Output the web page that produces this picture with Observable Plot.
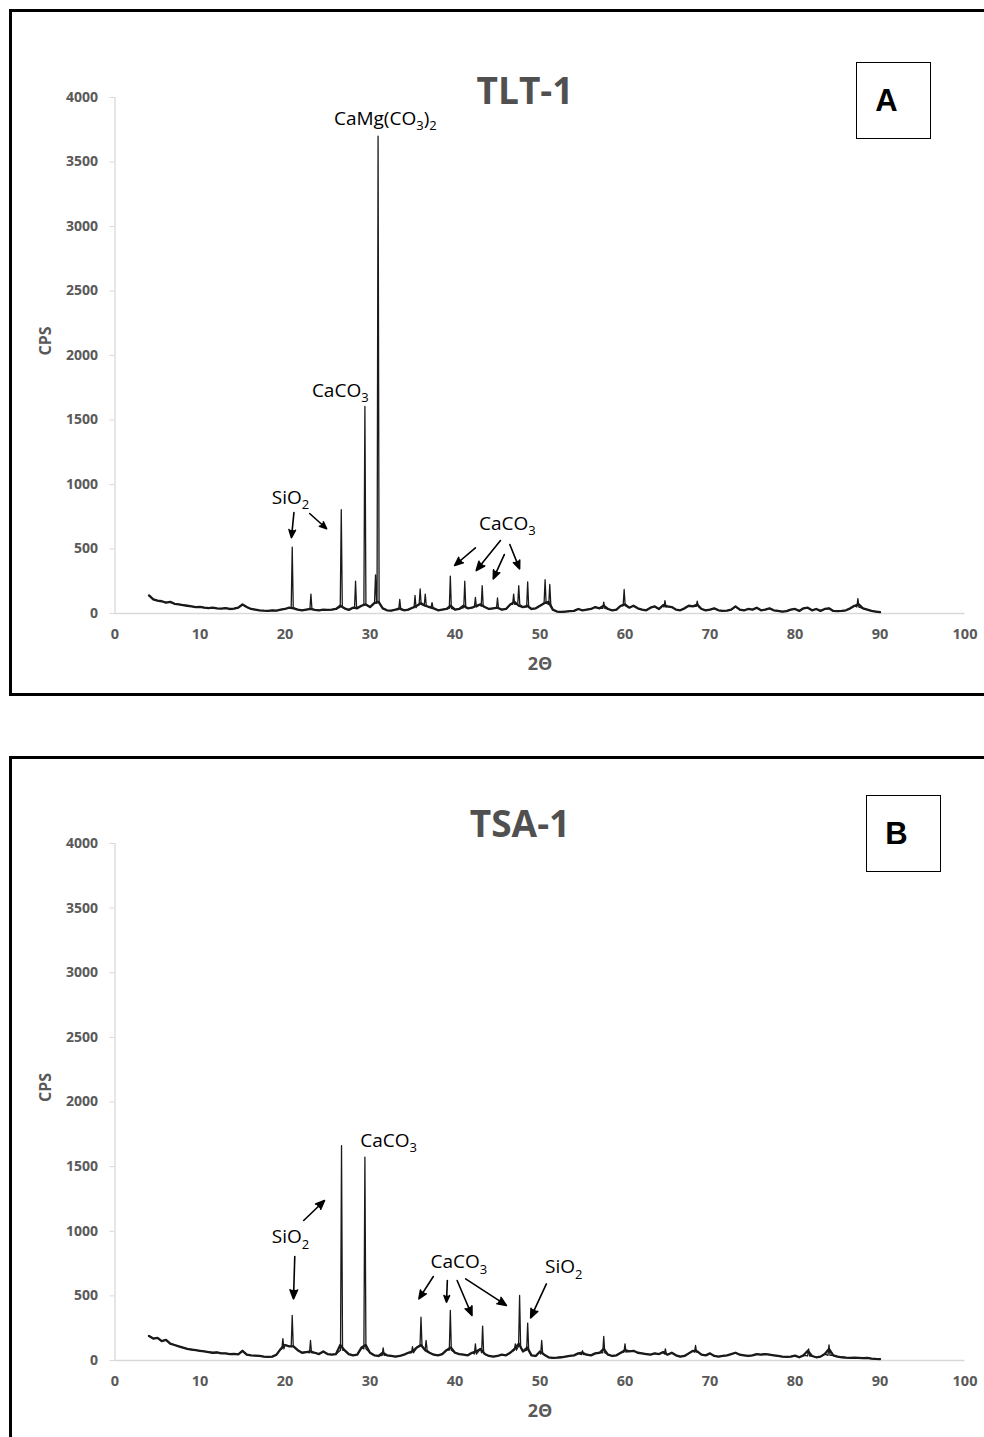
<!DOCTYPE html>
<html>
<head>
<meta charset="utf-8">
<script src="https://cdn.jsdelivr.net/npm/d3@7"></script>
<script src="https://cdn.jsdelivr.net/npm/@observablehq/plot@0.6"></script>
<style>
  html, body { margin: 0; padding: 0; background: #fff; }
  body { width: 984px; height: 1437px; overflow: hidden; position: relative; }
  .panel { position: absolute; border: 3px solid #000; box-sizing: border-box; }
  .chart { position: absolute; left: 0; }
  .tag { position: absolute; border: 1.5px solid #000; box-sizing: border-box; background: #fff;
         font-family: "Liberation Sans", Arial, sans-serif; font-weight: bold; font-size: 31px;
         display: flex; align-items: center; justify-content: center; color: #000; padding-right: 14px; }
</style>
</head>
<body>
<div class="panel" style="left:9px; top:9px; width:1000px; height:687px;"></div>
<div class="panel" style="left:9px; top:756px; width:1000px; height:700px;"></div>
<div id="chartA" class="chart" style="top:0px;"></div>
<div id="chartB" class="chart" style="top:747px;"></div>
<div class="tag" style="left:856px; top:62px; width:75px; height:77px;">A</div>
<div class="tag" style="left:866px; top:795px; width:75px; height:77px;">B</div>
<script>
// ---- axes ----
const thetaTicks = [0, 10, 20, 30, 40, 50, 60, 70, 80, 90, 100];
const cpsTicks = [0, 500, 1000, 1500, 2000, 2500, 3000, 3500, 4000];

// ---- panel A (TLT-1): background [2θ, CPS] ----
const baselineA = [
[4,140],[4.5,110],[5,100],[5.5,95],[6,85],[6.5,90],[7,75],[7.5,70],[8,65],[8.5,60],[9,55],[9.5,50],[10,52],[10.5,45],[11,42],[11.5,45],[12,40],[12.5,38],[13,42],[13.5,35],[14,38],[14.5,45],[15,70],[15.5,50],[16,35],[16.5,30],[17,25],[17.5,22],[18,20],[18.5,25],[19,22],[19.5,30],[20,35],[20.5,45],[21,40],[21.5,30],[22,25],[22.5,30],[23,35],[23.5,28],[24,25],[24.5,30],[25,28],[25.5,30],[26,35],[26.5,60],[27,40],[27.5,28],[28,45],[28.5,40],[29,60],[29.5,70],[30,50],[30.5,80],[31,90],[31.5,40],[32,25],[32.5,22],[33,30],[33.5,40],[34,25],[34.5,30],[35,45],[35.5,60],[36,80],[36.5,60],[37,50],[37.5,40],[38,25],[38.5,30],[39,35],[39.5,60],[40,30],[40.5,35],[41,60],[41.5,40],[42,45],[42.5,60],[43,70],[43.5,50],[44,35],[44.5,40],[45,45],[45.5,30],[46,35],[46.5,70],[47,90],[47.5,60],[48,50],[48.5,60],[49,35],[49.5,40],[50,60],[50.5,80],[51,90],[51.5,30],[52,15],[52.5,12],[53,15],[53.5,18],[54,20],[54.5,35],[55,25],[55.5,30],[56,35],[56.5,50],[57,40],[57.5,60],[58,35],[58.5,25],[59,30],[59.5,60],[60,70],[60.5,45],[61,60],[61.5,40],[62,30],[62.5,25],[63,45],[63.5,55],[64,35],[64.5,65],[65,55],[65.5,50],[66,30],[66.5,25],[67,40],[67.5,60],[68,55],[68.5,70],[69,35],[69.5,25],[70,30],[70.5,40],[71,25],[71.5,20],[72,22],[72.5,30],[73,55],[73.5,30],[74,25],[74.5,35],[75,30],[75.5,45],[76,25],[76.5,30],[77,40],[77.5,25],[78,20],[78.5,15],[79,18],[79.5,30],[80,35],[80.5,20],[81,40],[81.5,45],[82,25],[82.5,35],[83,20],[83.5,35],[84,40],[84.5,20],[85,18],[85.5,20],[86,25],[86.5,40],[87,60],[87.5,70],[88,40],[88.5,30],[89,20],[89.5,15],[90,10]
];
// peaks: [2θ, peak CPS, foot CPS]
const peaksA = [
[20.85,514,45],[23.05,150,35],[26.62,805,50],[28.3,250,45],[29.4,1605,70],[30.65,300,80],[30.95,3700,90],
[33.5,110,30],[35.3,140,45],[35.9,190,70],[36.5,150,60],[37.3,85,45],[39.45,290,40],[41.15,250,45],
[42.4,125,50],[43.2,215,55],[45.0,120,40],[46.9,150,70],[47.5,215,70],[48.55,245,50],[50.6,262,80],
[51.15,225,70],[57.5,88,40],[59.9,186,60],[64.7,100,50],[68.5,95,55],[87.4,115,50]
];
const labelsA = [
  {x: 31.8, y: 3837, text: "CaMg(CO₃)₂"},
  {x: 26.5, y: 1729, text: "CaCO₃"},
  {x: 20.65, y: 899, text: "SiO₂"},
  {x: 46.15, y: 695, text: "CaCO₃"}
];
const arrowsA = [
  {x1: 21.05, y1: 782, x2: 20.76, y2: 588},
  {x1: 22.9, y1: 775, x2: 24.9, y2: 657},
  {x1: 42.4, y1: 509, x2: 39.95, y2: 372},
  {x1: 45.35, y1: 566, x2: 42.5, y2: 333},
  {x1: 45.8, y1: 457, x2: 44.5, y2: 269},
  {x1: 46.45, y1: 535, x2: 47.6, y2: 346}
];

// ---- panel B (TSA-1) ----
const baselineB = [
[4,190],[4.5,170],[5,175],[5.5,150],[6,160],[6.5,130],[7,120],[7.5,110],[8,100],[8.5,90],[9,85],[9.5,80],[10,75],[10.5,70],[11,65],[11.5,60],[12,62],[12.5,55],[13,55],[13.5,50],[14,52],[14.5,48],[15,75],[15.5,45],[16,40],[16.5,38],[17,35],[17.5,30],[18,28],[18.5,30],[19,45],[19.5,90],[20,120],[20.5,110],[21,110],[21.5,80],[22,60],[22.5,65],[23,70],[23.5,60],[24,50],[24.5,70],[25,50],[25.5,45],[26,50],[26.5,120],[27,80],[27.5,50],[28,40],[28.5,45],[29,100],[29.5,120],[30,60],[30.5,40],[31,35],[31.5,60],[32,40],[32.5,35],[33,30],[33.5,35],[34,45],[34.5,60],[35,70],[35.5,100],[36,120],[36.5,80],[37,60],[37.5,45],[38,40],[38.5,50],[39,80],[39.5,100],[40,60],[40.5,50],[41,45],[41.5,40],[42,60],[42.5,70],[43,90],[43.5,50],[44,35],[44.5,30],[45,35],[45.5,45],[46,40],[46.5,60],[47,90],[47.5,130],[48,70],[48.5,100],[49,40],[49.5,35],[50,70],[50.5,45],[51,25],[51.5,20],[52,22],[52.5,25],[53,30],[53.5,35],[54,40],[54.5,55],[55,60],[55.5,45],[56,40],[56.5,55],[57,60],[57.5,90],[58,45],[58.5,35],[59,40],[59.5,60],[60,80],[60.5,70],[61,75],[61.5,60],[62,55],[62.5,50],[63,45],[63.5,55],[64,50],[64.5,65],[65,45],[65.5,60],[66,40],[66.5,30],[67,35],[67.5,55],[68,75],[68.5,70],[69,45],[69.5,40],[70,55],[70.5,35],[71,30],[71.5,35],[72,40],[72.5,50],[73,60],[73.5,45],[74,40],[74.5,35],[75,40],[75.5,50],[76,45],[76.5,50],[77,45],[77.5,40],[78,35],[78.5,30],[79,28],[79.5,30],[80,38],[80.5,25],[81,40],[81.5,75],[82,35],[82.5,25],[83,30],[83.5,50],[84,90],[84.5,40],[85,30],[85.5,25],[86,22],[86.5,20],[87,22],[87.5,20],[88,18],[88.5,20],[89,15],[89.5,12],[90,10]
];
const peaksB = [
[19.75,170,90],[20.85,348,110],[23.0,155,60],[26.65,1663,80],[29.4,1573,90],[31.55,98,40],[35.0,108,60],[36.0,335,110],
[36.6,155,80],[39.45,387,80],[42.4,129,50],[43.25,266,60],[47.1,129,80],[47.6,503,110],[48.55,289,80],
[50.2,155,50],[55.0,77,45],[57.5,186,60],[60.0,129,65],[64.75,90,50],[68.3,116,65],[81.6,90,35],[84.0,121,40]
];
const labelsB = [
  {x: 32.2, y: 1702, text: "CaCO₃"},
  {x: 20.65, y: 954, text: "SiO₂"},
  {x: 40.45, y: 761, text: "CaCO₃"},
  {x: 52.8, y: 722, text: "SiO₂"}
];
const arrowsB = [
  {x1: 22.2, y1: 1083, x2: 24.65, y2: 1238},
  {x1: 21.15, y1: 805, x2: 21.0, y2: 477},
  {x1: 37.45, y1: 650, x2: 35.75, y2: 477},
  {x1: 39.1, y1: 619, x2: 39.0, y2: 451},
  {x1: 40.25, y1: 619, x2: 42.0, y2: 348},
  {x1: 41.25, y1: 632, x2: 46.05, y2: 426},
  {x1: 50.75, y1: 593, x2: 48.9, y2: 330}
];

function buildPattern(baseline, peaks) {
  const pts = baseline
    .filter(([x]) => !peaks.some(p => Math.abs(p[0] - x) < 0.2))
    .map(([x, y]) => ({x, y}));
  for (const [x, y, foot] of peaks) {
    pts.push({x: x - 0.12, y: foot}, {x, y}, {x: x + 0.12, y: foot});
  }
  return pts.sort((a, b) => a.x - b.x);
}

function panel({baseline, peaks, labels, arrows, title, titleDx, titleDy, marginTop}) {
  const gray = "#595959";
  return Plot.plot({
    width: 984, height: 700,
    marginLeft: 114.5, marginRight: 19.5, marginTop, marginBottom: 87,
    style: {fontFamily: "'Open Sans', sans-serif", background: "transparent", overflow: "visible"},
    x: {domain: [0, 100], label: null},
    y: {domain: [0, 4000], label: null},
    marks: [
      Plot.ruleX([0], {stroke: "#d9d9d9", strokeWidth: 1.3}),
      Plot.ruleY([0], {x1: 0, x2: 100, stroke: "#d9d9d9", strokeWidth: 1.3}),
      Plot.axisY({ticks: cpsTicks, tickFormat: d3.format("d"), tickSize: 5, tickPadding: 12, stroke: "#d9d9d9", fill: gray,
                  fontSize: 14, fontWeight: "bold", label: null}),
      Plot.axisX({ticks: thetaTicks, tickFormat: d3.format("d"), tickSize: 0, tickPadding: 15, fill: gray,
                  fontSize: 14.5, fontWeight: "bold", label: null}),
      // noisy background band of the diffractogram
      Plot.line(baseline, {x: d => d[0], y: d => d[1], stroke: "#1a1a1a", strokeWidth: 2.3, strokeLinejoin: "round"}),
      Plot.line(buildPattern(baseline, peaks), {x: "x", y: "y", stroke: "#1a1a1a", strokeWidth: 1.3}),
      Plot.arrow(arrows, {x1: "x1", y1: "y1", x2: "x2", y2: "y2", stroke: "#000", strokeWidth: 1.6,
                          headLength: 9, headAngle: 45}),
      Plot.text(labels, {x: "x", y: "y", text: "text", fontSize: 19, fill: "#000", fontWeight: "normal"}),
      Plot.text([title], {text: d => d, frameAnchor: "top", lineAnchor: "middle", dx: titleDx, dy: titleDy,
                          fontSize: 37, fontWeight: "bold", fill: "#505050"}),
      Plot.text(["2Θ"], {text: d => d, frameAnchor: "bottom", lineAnchor: "middle", dy: 51,
                         fontSize: 18, fontWeight: "bold", fill: gray}),
      Plot.text(["CPS"], {text: d => d, frameAnchor: "left", lineAnchor: "middle", dx: -69, rotate: -90,
                          fontSize: 16, fontWeight: "bold", fill: gray})
    ]
  });
}

function subscripts(svg) {
  svg.querySelectorAll("text").forEach(el => {
    if (el.childElementCount) return;
    const s = el.textContent;
    if (!/[\u2080-\u2089]/.test(s)) return;
    const runs = [];
    for (const ch of s) {
      const sub = ch >= "\u2080" && ch <= "\u2089";
      const c = sub ? String(ch.charCodeAt(0) - 0x2080) : ch;
      if (runs.length && runs[runs.length - 1].sub === sub) runs[runs.length - 1].t += c;
      else runs.push({sub, t: c});
    }
    el.textContent = "";
    let down = false;
    for (const r of runs) {
      const ts = document.createElementNS("http://www.w3.org/2000/svg", "tspan");
      ts.textContent = r.t;
      if (r.sub) { ts.setAttribute("font-size", "13"); ts.setAttribute("dy", "5.5"); down = true; }
      else if (down) { ts.setAttribute("dy", "-5.5"); down = false; }
      el.appendChild(ts);
    }
  });
  // filled arrowheads (shaft sub-path has no area, so only the head gets filled)
  svg.querySelectorAll('g[aria-label="arrow"] path').forEach(p => p.setAttribute("fill", "#000"));
}

const A = panel({baseline: baselineA, peaks: peaksA, labels: labelsA, arrows: arrowsA,
                 title: "TLT-1", titleDx: -15, titleDy: -5, marginTop: 97});
const B = panel({baseline: baselineB, peaks: peaksB, labels: labelsB, arrows: arrowsB,
                 title: "TSA-1", titleDx: -20, titleDy: -18, marginTop: 96});
subscripts(A); subscripts(B);
document.getElementById("chartA").appendChild(A);
document.getElementById("chartB").appendChild(B);
</script>
</body>
</html>
